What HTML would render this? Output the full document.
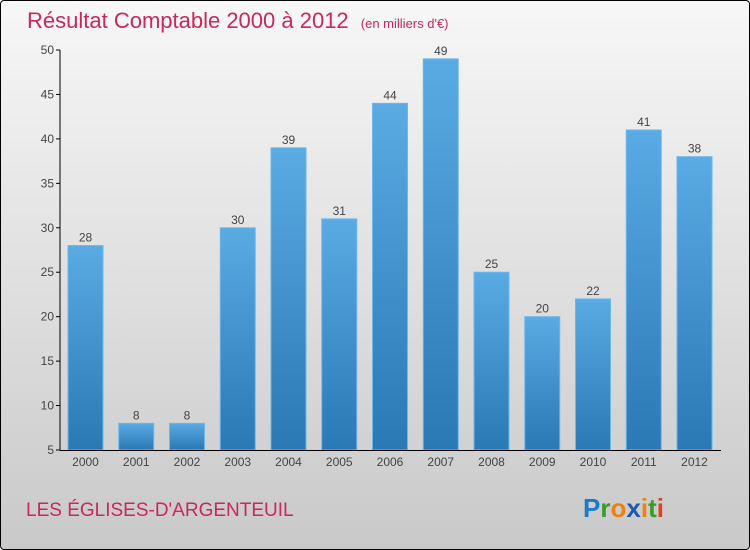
<!DOCTYPE html>
<html><head><meta charset="utf-8"><style>
body{margin:0;width:750px;height:550px;overflow:hidden;font-family:"Liberation Sans",sans-serif}
#wrap{position:absolute;left:0;top:0;width:748px;height:548px;border:1px solid #000;border-radius:4px;background:linear-gradient(#f7f7f7,#c9c9c9)}
svg{position:absolute;left:0;top:0}
</style></head><body>
<div id="wrap"></div>
<svg id="chart" width="750" height="550">
<defs><linearGradient id="bg" x1="0" y1="0" x2="0" y2="1"><stop offset="0" stop-color="#5aaae4"/><stop offset="1" stop-color="#2a78b4"/></linearGradient></defs>
<text x="27" y="28" font-size="22" fill="#c8285a">Résultat Comptable 2000 à 2012 <tspan font-size="13" dx="6">(en milliers d'€)</tspan></text>
<text x="26" y="516" font-size="19" fill="#c8285a">LES ÉGLISES-D'ARGENTEUIL</text>
<text x="583" y="517" font-size="26" font-weight="bold"><tspan fill="#1a7acc">P</tspan><tspan fill="#3a9a2a">r</tspan><tspan fill="#f08010">o</tspan><tspan fill="#1a5ab0">x</tspan><tspan fill="#f08010">i</tspan><tspan fill="#3a9a2a">t</tspan><tspan fill="#e04020">i</tspan></text>
<g id="plot"></g>
</svg>
<script>
const categories=["2000","2001","2002","2003","2004","2005","2006","2007","2008","2009","2010","2011","2012"];
const values=[28,8,8,30,39,31,44,49,25,20,22,41,38];
const yTicks=[5,10,15,20,25,30,35,40,45,50];
const NS="http://www.w3.org/2000/svg";
const g=document.getElementById('plot');
const y=v=>450-(v-5)*400/45;
const x=i=>85.5+i*50.75;
function mk(t,a){const e=document.createElementNS(NS,t);for(const k in a)e.setAttribute(k,a[k]);g.appendChild(e);return e;}
yTicks.forEach(t=>{
 const l=mk('line',{x1:56,x2:60,y1:y(t),y2:y(t),stroke:'#000'});
 
 
 const tx=mk('text',{x:54,y:y(t)+4,'text-anchor':'end','font-size':12,fill:'#444'});
 tx.textContent=t;
 
 
});
values.forEach((v,i)=>{
 const r=mk('rect',{x:x(i)-17.5,y:y(v),width:35,height:450-y(v),fill:'url(#bg)',stroke:'#6ab8ee','stroke-width':1});
 
 
 const vl=mk('text',{x:x(i),y:y(v)-4,'text-anchor':'middle','font-size':12,fill:'#444'});
 vl.textContent=v;
 
 
 const cl=mk('text',{x:x(i),y:466,'text-anchor':'middle','font-size':12,fill:'#444'});
 cl.textContent=categories[i];
 
 
});
const ya=mk('line',{x1:60,x2:60,y1:50,y2:450,stroke:'#000'});


const xa=mk('line',{x1:60,x2:721,y1:450.5,y2:450.5,stroke:'#000'});


</script>
</body></html>
